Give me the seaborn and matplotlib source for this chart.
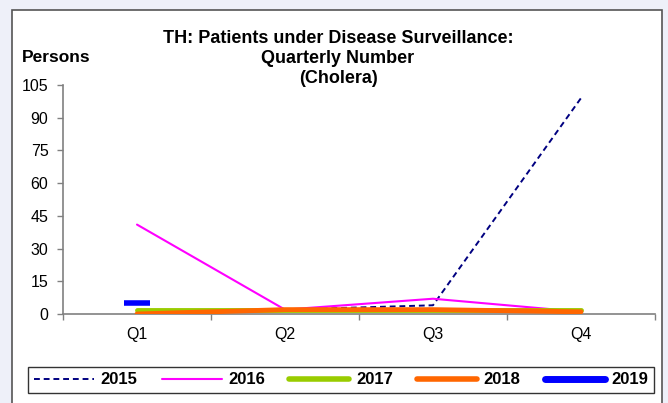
import matplotlib
matplotlib.use("Agg")
import matplotlib.pyplot as plt
import seaborn as sns
import pandas as pd
from matplotlib.lines import Line2D
from matplotlib.patches import Rectangle

# data
quarters = ["Q1", "Q2", "Q3", "Q4"]
y2015 = [1, 2, 4, 99]
y2016 = [41, 2, 7, 1]
y2017 = [2, 2, 2, 2]
y2018 = [0, 2, 2, 1]
y2019 = [5]
years = ["2015", "2016", "2017", "2018", "2019"]
yticks = [0, 15, 30, 45, 60, 75, 90, 105]

sns.set_theme(style="white")
plt.rcParams["font.family"] = ["Liberation Sans", "DejaVu Sans"]
plt.rcParams["text.color"] = "black"
plt.rcParams["xtick.color"] = "black"
plt.rcParams["ytick.color"] = "black"

fig = plt.figure(figsize=(6.68, 4.03), dpi=100)
fig.patch.set_facecolor("#eef0f9")
# white panel with grey frame
fig.patches.append(Rectangle((12 / 668, -0.05), 650 / 668, 1 - 10 / 403 + 0.05,
                             transform=fig.transFigure, facecolor="white",
                             edgecolor="#555555", linewidth=1.2, zorder=-10))

ax = fig.add_axes([63 / 668, 1 - 314 / 403, 592 / 668, 229 / 403])
ax.set_facecolor("none")

df = pd.DataFrame({"quarter": quarters, "2015": y2015, "2016": y2016,
                   "2017": y2017, "2018": y2018})
x = list(range(len(quarters)))

sns.lineplot(x=x, y=df["2015"], ax=ax, color="#000080", lw=1.4,
             linestyle=(0, (3, 2)), zorder=3)
sns.lineplot(x=x, y=df["2016"], ax=ax, color="#ff00ff", lw=1.5, zorder=4)
sns.lineplot(x=x, y=df["2017"], ax=ax, color="#99cc00", lw=3.5, zorder=5)
sns.lineplot(x=x, y=df["2018"], ax=ax, color="#ff6600", lw=3.5, zorder=6)
# 2019 has only Q1, shown as a short thick dash
sns.scatterplot(x=[0], y=y2019, ax=ax, color="#0000ff", edgecolor="#0000ff",
                marker="_", s=360, linewidth=4, zorder=7)

ax.set_xlim(-0.5, 3.5)
ax.set_ylim(0, 105)
ax.set_yticks(yticks)
ax.set_yticklabels([str(v) for v in yticks], fontsize=11.5)
ax.set_xticks(x)
ax.set_xticklabels(quarters, fontsize=11.5)
ax.set_xticks([-0.5, 0.5, 1.5, 2.5, 3.5], minor=True)
ax.tick_params(axis="x", which="major", length=0, pad=9, labelcolor="black")
ax.tick_params(axis="x", which="minor", length=4.5, width=1, color="#808080",
               direction="out", bottom=True)
ax.tick_params(axis="y", length=4.5, width=1, color="#808080", direction="out",
               left=True, pad=6, labelcolor="black")
ax.set_xlabel("")
ax.set_ylabel("")
for s in ["top", "right"]:
    ax.spines[s].set_visible(False)
for s in ["left", "bottom"]:
    ax.spines[s].set_color("#808080")
    ax.spines[s].set_linewidth(1.2)
ax.grid(False)

fig.text(338 / 668, 1 - 58.5 / 403,
         "TH: Patients under Disease Surveillance:\nQuarterly Number\n(Cholera)",
         ha="center", va="center", fontsize=13, fontweight="bold",
         linespacing=1.2, color="black")
fig.text(22 / 668, 1 - 57 / 403, "Persons", ha="left", va="center",
         fontsize=12.5, fontweight="bold", color="black")

handles = [
    Line2D([], [], color="#000080", lw=1.4, linestyle=(0, (3, 2))),
    Line2D([], [], color="#ff00ff", lw=1.5),
    Line2D([], [], color="#99cc00", lw=4),
    Line2D([], [], color="#ff6600", lw=4),
    Line2D([], [], color="#0000ff", lw=5),
]
leg = fig.legend(handles, years, loc="center", ncol=5,
                 bbox_to_anchor=(341 / 668, 1 - 380 / 403),
                 prop={"weight": "bold", "size": 12}, frameon=True,
                 fancybox=False, edgecolor="black", handlelength=3.6,
                 handletextpad=0.4, columnspacing=1.45, borderpad=0.35)
leg.get_frame().set_linewidth(1.0)
for t in leg.get_texts():
    t.set_color("black")

fig.savefig("out.png", dpi=100)
